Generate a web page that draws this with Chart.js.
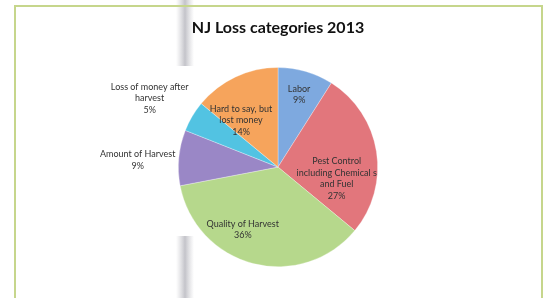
<!DOCTYPE html>
<html>
<head>
<meta charset="utf-8">
<script src="https://cdn.jsdelivr.net/npm/chart.js@4"></script>
<style>
  html, body { margin: 0; padding: 0; background: #fff; }
  #wrap { width: 545px; height: 298px; position: relative; }
</style>
</head>
<body>
<div id="wrap"><canvas id="lossPie" width="545" height="298"></canvas></div>
<script>
const categories = [
  "Labor",
  "Pest Control including Chemical s and Fuel",
  "Quality of Harvest",
  "Amount of Harvest",
  "Loss of money after harvest",
  "Hard to say, but lost money",
];
const lossShare = [9, 27, 36, 9, 5, 14]; // percent
const sliceColors = ["#7ea9df", "#e2767c", "#b6d88c", "#9a87c6", "#52c3e2", "#f6a45c"];

// how each label is split into lines, like the original
const labelLines = [
  ["Labor"],
  ["Pest Control", "including Chemical s", "and Fuel"],
  ["Quality of Harvest"],
  ["Amount of Harvest"],
  ["Loss of money after", "harvest"],
  ["Hard to say, but", "lost money"],
];
// label spot: angle offset (deg) from slice middle, distance as fraction of radius
const labelSpot = [
  [0, 0.76],
  [20, 0.6],
  [15, 0.72],
  [-2.6, 1.41],
  [-2.5, 1.46],
  [-13, 0.6],
];

// faint background + frame, drawn under the pie
const backdrop = {
  id: "backdrop",
  beforeDraw(chart) {
    const c = chart.ctx;
    c.save();
    c.fillStyle = "#fff";
    c.fillRect(0, 0, chart.width, chart.height);
    // greyish band from the photo
    const g = c.createLinearGradient(176, 0, 194, 0);
    g.addColorStop(0, "rgba(200,200,205,0)");
    g.addColorStop(0.5, "rgba(185,185,192,0.85)");
    g.addColorStop(1, "rgba(200,200,205,0)");
    c.fillStyle = g;
    c.fillRect(176, 0, 18, 66);
    c.fillRect(176, 236, 18, 62);
    c.strokeStyle = "#c6d68c";
    c.lineWidth = 2;
    c.strokeRect(15, 6, 527, 300);
    c.restore();
  },
};

const sliceLabels = {
  id: "sliceLabels",
  afterDatasetsDraw(chart) {
    const c = chart.ctx;
    const arcs = chart.getDatasetMeta(0).data;
    c.save();
    c.font = "9px Lato, 'Open Sans', sans-serif";
    c.fillStyle = "#333";
    c.textAlign = "center";
    c.textBaseline = "middle";
    arcs.forEach((arc, i) => {
      const p = arc.getProps(["x", "y", "startAngle", "endAngle", "outerRadius"], true);
      const mid = (p.startAngle + p.endAngle) / 2 + labelSpot[i][0] * Math.PI / 180;
      const r = p.outerRadius * labelSpot[i][1];
      const cx = p.x + Math.cos(mid) * r;
      const cy = p.y + Math.sin(mid) * r;
      const lines = labelLines[i].concat([lossShare[i] + "%"]);
      const lh = 11.5;
      lines.forEach((t, k) => {
        c.fillText(t, cx, cy + (k - (lines.length - 1) / 2) * lh);
      });
    });
    c.restore();
  },
};

new Chart(document.getElementById("lossPie"), {
  type: "pie",
  data: {
    labels: categories,
    datasets: [
      {
        data: lossShare,
        backgroundColor: sliceColors,
        borderColor: "rgba(255,255,255,0.6)",
        borderWidth: 0.5,
      },
    ],
  },
  options: {
    responsive: false,
    animation: false,
    layout: { padding: { left: 178, right: 167, top: 10, bottom: 31 } },
    plugins: {
      legend: { display: false },
      tooltip: { enabled: false },
      title: {
        display: true,
        text: "NJ Loss categories 2013",
        color: "#111",
        font: { family: "Lato, 'Open Sans', sans-serif", size: 16, weight: "bold", lineHeight: 1.2 },
        padding: { top: 8, bottom: 30 },
      },
    },
  },
  plugins: [backdrop, sliceLabels],
});
</script>
</body>
</html>
